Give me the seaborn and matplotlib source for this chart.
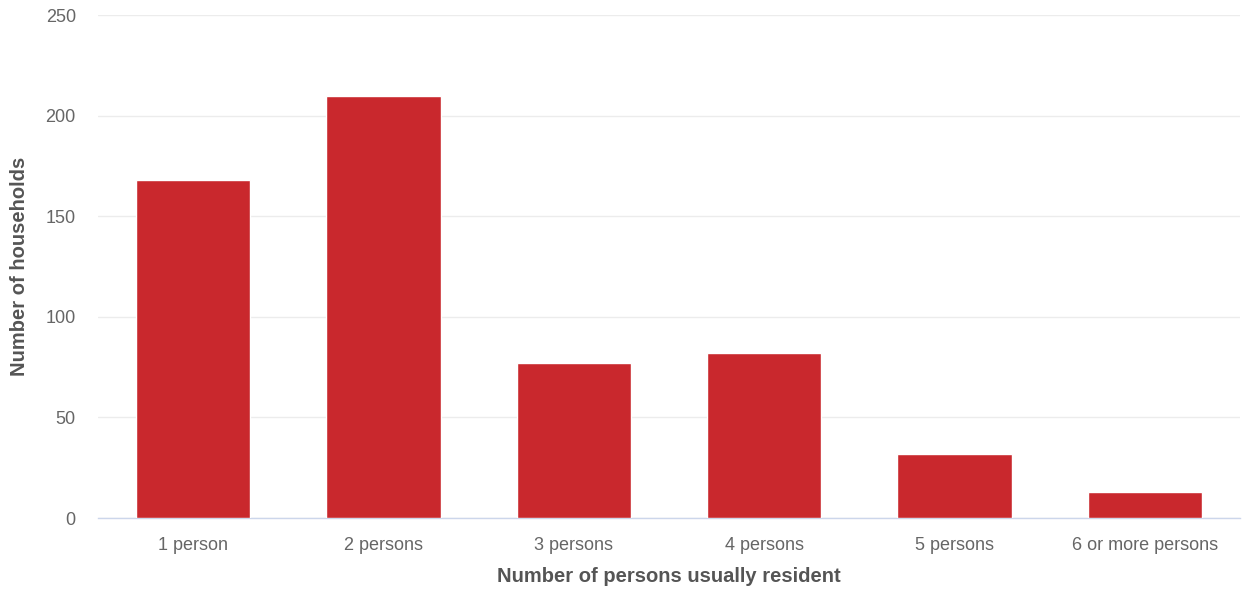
import pandas as pd
import seaborn as sns
import matplotlib.pyplot as plt

# Household size data
categories = ['1 person', '2 persons', '3 persons', '4 persons', '5 persons', '6 or more persons']
households = [168, 210, 77, 82, 32, 13]

df = pd.DataFrame({'size': categories, 'count': households})

sns.set_style('white')
plt.rcParams['font.family'] = ['Liberation Sans', 'DejaVu Sans']

fig = plt.figure(figsize=(12.45, 5.89), dpi=100)
ax = fig.add_axes([0.0787, 0.1205, 0.9173, 0.854])

sns.barplot(data=df, x='size', y='count', color='#c9282d', saturation=1, width=0.6, ax=ax, zorder=3)

ax.set_ylim(0, 250)
ax.set_xlim(-0.5, len(categories) - 0.5)
ax.set_yticks([0, 50, 100, 150, 200, 250])
ax.grid(axis='y', color='#ececec', linewidth=1, zorder=0)

for side in ['top', 'right', 'left']:
    ax.spines[side].set_visible(False)
ax.spines['bottom'].set_color('#ccd6eb')
ax.spines['bottom'].set_linewidth(1)

ax.tick_params(axis='x', colors='#ccd6eb', length=14, width=1, labelcolor='#666666', labelsize=13, pad=0)
ax.tick_params(axis='y', length=0, labelcolor='#666666', labelsize=13, pad=16)

ax.set_xlabel('Number of persons usually resident', fontsize=14.5, fontweight='bold', color='#555555', labelpad=9)
ax.set_ylabel('Number of households', fontsize=14.5, fontweight='bold', color='#555555', labelpad=12)

fig.savefig('out.png', dpi=100)
